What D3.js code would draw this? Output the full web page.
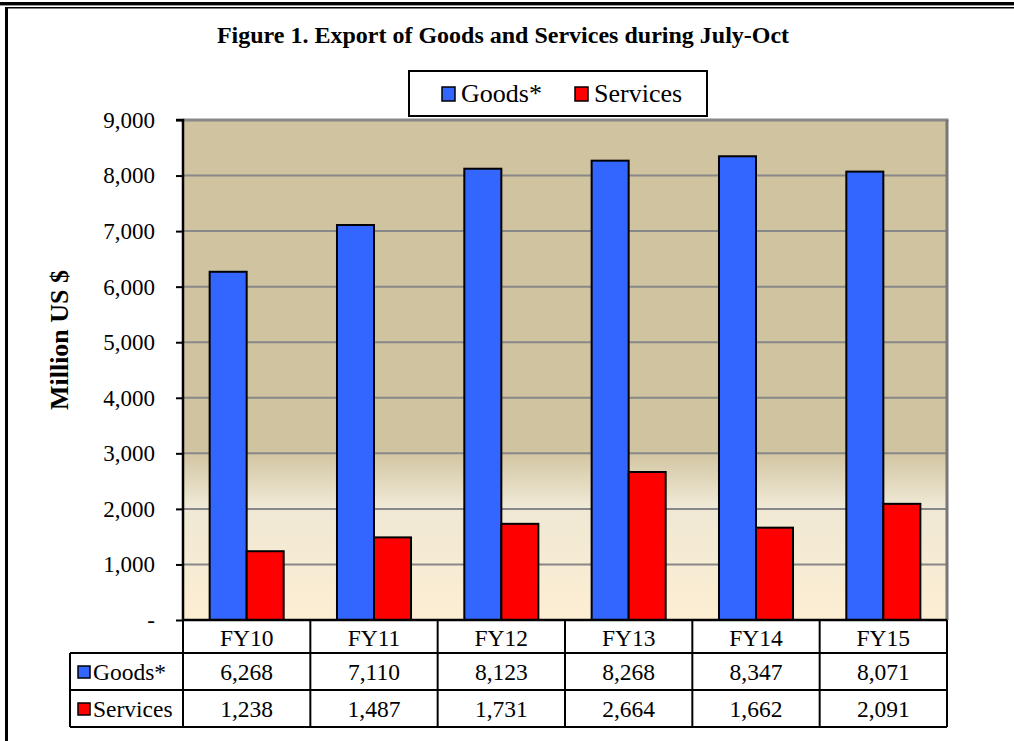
<!DOCTYPE html>
<html>
<head>
<meta charset="utf-8">
<script src="https://cdn.jsdelivr.net/npm/d3@7/dist/d3.min.js"></script>
<style>
  html, body { margin: 0; padding: 0; background: #fff; }
  svg { display: block; }
  text { font-family: "Liberation Serif", "Times New Roman", serif; fill: #000; }
</style>
</head>
<body>
<svg id="chart" width="1014" height="741"></svg>
<script>
const categories = ["FY10", "FY11", "FY12", "FY13", "FY14", "FY15"];
const goods = [6268, 7110, 8123, 8268, 8347, 8071];
const services = [1238, 1487, 1731, 2664, 1662, 2091];
const seriesNames = ["Goods*", "Services"];
const seriesColors = ["#3366ff", "#ff0000"];
const yTicks = [0, 1000, 2000, 3000, 4000, 5000, 6000, 7000, 8000, 9000];
const titleText = "Figure 1. Export of Goods and Services during July-Oct";
const yAxisTitle = "Million US $";

const svg = d3.select("#chart");
const W = 1014, H = 741;
const plot = { left: 183, right: 947, top: 120, bottom: 620 };

// Outer frame
svg.append("rect").attr("x", 0).attr("y", 2).attr("width", W).attr("height", 3).attr("fill", "#000");
svg.append("rect").attr("x", 0).attr("y", 5).attr("width", W).attr("height", 1).attr("fill", "#999");
svg.append("rect").attr("x", 5).attr("y", 7).attr("width", W - 5).attr("height", 1.5).attr("fill", "#000");
svg.append("rect").attr("x", 5).attr("y", 7).attr("width", 3).attr("height", H - 7).attr("fill", "#000");

// Scales
const x = d3.scaleBand().domain(categories).range([plot.left, plot.right]).paddingInner(0).paddingOuter(0);
const xs = d3.scaleBand().domain(seriesNames).range([0, x.bandwidth()]).paddingInner(0).paddingOuter(0.72);
const y = d3.scaleLinear().domain([0, 9000]).range([plot.bottom, plot.top]);

// Gradient background
const defs = svg.append("defs");
const grad = defs.append("linearGradient").attr("id", "bg").attr("x1", 0).attr("y1", 0).attr("x2", 0).attr("y2", 1);
[[0, "#d0c39f"], [0.66, "#d0c39f"], [0.77, "#efe8d4"], [1, "#fdeed3"]].forEach(s =>
  grad.append("stop").attr("offset", s[0]).attr("stop-color", s[1]));

svg.append("rect").attr("x", plot.left).attr("y", plot.top)
  .attr("width", plot.right - plot.left).attr("height", plot.bottom - plot.top)
  .attr("fill", "url(#bg)");

// Gridlines
svg.append("g").selectAll("line").data(yTicks.filter(d => d > 0 && d < 9000)).join("line")
  .attr("x1", plot.left).attr("x2", plot.right)
  .attr("y1", d => y(d)).attr("y2", d => y(d))
  .attr("stroke", "#888").attr("stroke-width", 2);

// Plot top and right border (gray)
svg.append("line").attr("x1", plot.left).attr("x2", plot.right + 1.5).attr("y1", plot.top).attr("y2", plot.top)
  .attr("stroke", "#888").attr("stroke-width", 3);
svg.append("line").attr("x1", plot.right).attr("x2", plot.right).attr("y1", plot.top).attr("y2", plot.bottom)
  .attr("stroke", "#777").attr("stroke-width", 3);

// Bars
const seriesData = [goods, services];
const barG = svg.append("g");
categories.forEach((c, i) => {
  seriesData.forEach((vals, s) => {
    barG.append("rect")
      .attr("x", x(c) + xs(seriesNames[s]))
      .attr("y", y(vals[i]))
      .attr("width", xs.bandwidth())
      .attr("height", y(0) - y(vals[i]))
      .attr("fill", seriesColors[s])
      .attr("stroke", "#000").attr("stroke-width", 2);
  });
});

// Y axis
const yAxis = d3.axisLeft(y).tickValues(yTicks).tickSize(7).tickPadding(21)
  .tickFormat(d => d === 0 ? "-" : d3.format(",")(d));
const ya = svg.append("g").attr("transform", `translate(${plot.left},0)`).call(yAxis);
ya.attr("font-family", null).attr("font-size", null);
ya.select(".domain").attr("stroke", "#000").attr("stroke-width", 2.5).attr("d", `M-7,${plot.top}H0V${plot.bottom}`);
ya.selectAll(".tick line").attr("stroke", "#000").attr("stroke-width", 2);
ya.selectAll(".tick text").attr("font-size", 23).attr("fill", "#000");

// Y axis title
svg.append("text").attr("transform", `translate(68,340) rotate(-90)`)
  .attr("text-anchor", "middle").attr("font-weight", "bold").attr("font-size", 26)
  .text(yAxisTitle);

// Title
svg.append("text").attr("x", 503).attr("y", 43).attr("text-anchor", "middle")
  .attr("font-weight", "bold").attr("font-size", 24).text(titleText);

// Legend
const lg = svg.append("g");
lg.append("rect").attr("x", 409).attr("y", 71).attr("width", 298).attr("height", 45)
  .attr("fill", "#fff").attr("stroke", "#000").attr("stroke-width", 2);
const legendX = [442, 575];
seriesNames.forEach((n, s) => {
  lg.append("rect").attr("x", legendX[s]).attr("y", 87).attr("width", 13).attr("height", 14)
    .attr("fill", seriesColors[s]).attr("stroke", "#000").attr("stroke-width", 1.5);
  lg.append("text").attr("x", legendX[s] + 19).attr("y", 102).attr("font-size", 26).text(n);
});

// Data table
const rowY = [plot.bottom, 653, 690, 727];
const tableLeft = 70;
const tg = svg.append("g");
tg.append("line").attr("x1", plot.left).attr("x2", plot.right).attr("y1", rowY[0]).attr("y2", rowY[0]).attr("stroke", "#000").attr("stroke-width", 2.5);
[1, 2, 3].forEach(r => tg.append("line").attr("x1", tableLeft).attr("x2", plot.right)
  .attr("y1", rowY[r]).attr("y2", rowY[r]).attr("stroke", "#000").attr("stroke-width", 2));
const colEdges = categories.map(c => x(c)).concat([plot.right]);
colEdges.forEach(cx => tg.append("line").attr("x1", cx).attr("x2", cx).attr("y1", rowY[0]).attr("y2", rowY[3])
  .attr("stroke", "#000").attr("stroke-width", 2));
tg.append("line").attr("x1", tableLeft).attr("x2", tableLeft).attr("y1", rowY[1]).attr("y2", rowY[3])
  .attr("stroke", "#000").attr("stroke-width", 2);
categories.forEach(c => tg.append("text").attr("x", x(c) + x.bandwidth() / 2).attr("y", rowY[0] + 26)
  .attr("text-anchor", "middle").attr("font-size", 23.5).text(c));
seriesData.forEach((vals, s) => {
  const ry = rowY[s + 1];
  tg.append("rect").attr("x", tableLeft + 8).attr("y", ry + 13).attr("width", 12).attr("height", 12)
    .attr("fill", seriesColors[s]).attr("stroke", "#000").attr("stroke-width", 1.5);
  tg.append("text").attr("x", tableLeft + 23).attr("y", ry + 27).attr("font-size", 23.5).text(seriesNames[s]);
  vals.forEach((v, i) => tg.append("text").attr("x", x(categories[i]) + x.bandwidth() / 2).attr("y", ry + 27)
    .attr("text-anchor", "middle").attr("font-size", 23.5).text(d3.format(",")(v)));
});
</script>
</body>
</html>
